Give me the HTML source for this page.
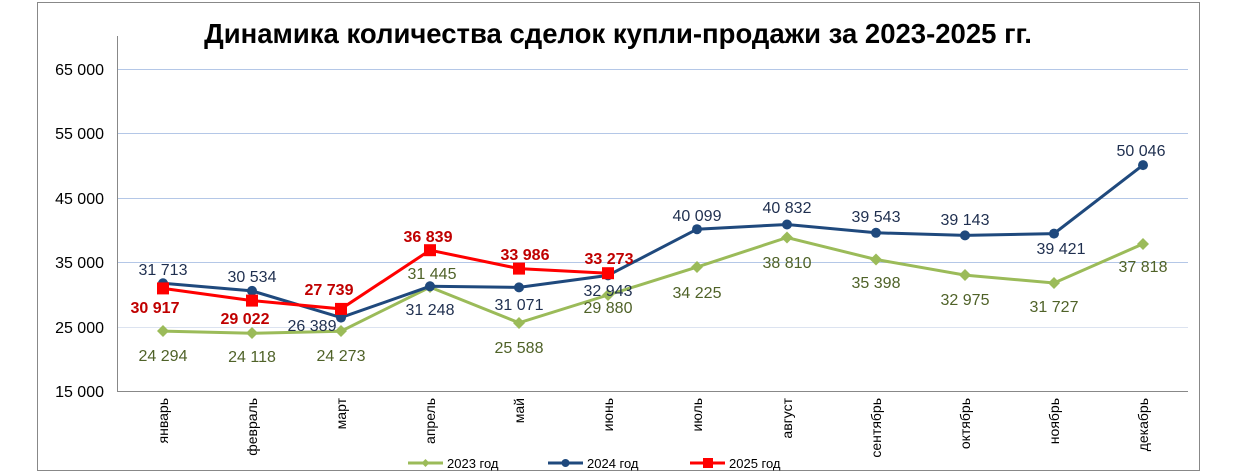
<!DOCTYPE html>
<html><head><meta charset="utf-8"><style>
body{margin:0;background:#fff;}
svg{display:block;font-family:"Liberation Sans",Arial,sans-serif;}
</style></head><body>
<svg width="1258" height="474" viewBox="0 0 1258 474">
<rect x="37.5" y="2.5" width="1162" height="468" fill="#fff" stroke="#888" stroke-width="1"/>
<text x="618" y="43" text-anchor="middle" font-size="27.5" font-weight="bold">Динамика количества сделок купли-продажи за 2023-2025 гг.</text>
<g stroke="#B4C7E7" stroke-width="1">
<line x1="117" y1="69.5" x2="1188" y2="69.5"/>
<line x1="117" y1="133.5" x2="1188" y2="133.5"/>
<line x1="117" y1="198.5" x2="1188" y2="198.5"/>
<line x1="117" y1="262.5" x2="1188" y2="262.5"/>
<line x1="117" y1="327.5" x2="1188" y2="327.5" stroke="#DCE3F0"/>
</g>
<line x1="117.5" y1="36" x2="117.5" y2="391" stroke="#888"/>
<line x1="117" y1="391.5" x2="1188" y2="391.5" stroke="#888"/>
<g font-size="16" text-anchor="end" fill="#000">
<text x="104" y="75">65 000</text><text x="104" y="139">55 000</text><text x="104" y="204">45 000</text>
<text x="104" y="268">35 000</text><text x="104" y="333">25 000</text><text x="104" y="397">15 000</text>
</g>
<g font-size="14" text-anchor="end" fill="#000">
<text transform="translate(168,398) rotate(-90)">январь</text>
<text transform="translate(257,398) rotate(-90)">февраль</text>
<text transform="translate(346,398) rotate(-90)">март</text>
<text transform="translate(435,398) rotate(-90)">апрель</text>
<text transform="translate(524,398) rotate(-90)">май</text>
<text transform="translate(613,398) rotate(-90)">июнь</text>
<text transform="translate(702,398) rotate(-90)">июль</text>
<text transform="translate(792,398) rotate(-90)">август</text>
<text transform="translate(881,398) rotate(-90)">сентябрь</text>
<text transform="translate(970,398) rotate(-90)">октябрь</text>
<text transform="translate(1059,398) rotate(-90)">ноябрь</text>
<text transform="translate(1148,398) rotate(-90)">декабрь</text>
</g>
<!-- 2023 -->
<polyline fill="none" stroke="#9BBB59" stroke-width="3" points="163,331.1 252,333.3 341,331.2 430,287.1 519,322.8 608,295 697,267.1 787,237.5 876,259.5 965,275.1 1054,283 1143,243.9"/>
<g fill="#9BBB59">
<path d="M163,325 l6,6 l-6,6 l-6,-6z"/><path d="M252,327 l6,6 l-6,6 l-6,-6z"/><path d="M341,325 l6,6 l-6,6 l-6,-6z"/>
<path d="M430,281 l6,6 l-6,6 l-6,-6z"/><path d="M519,317 l6,6 l-6,6 l-6,-6z"/><path d="M608,289 l6,6 l-6,6 l-6,-6z"/>
<path d="M697,261 l6,6 l-6,6 l-6,-6z"/><path d="M787,231.5 l6,6 l-6,6 l-6,-6z"/><path d="M876,253.5 l6,6 l-6,6 l-6,-6z"/>
<path d="M965,269 l6,6 l-6,6 l-6,-6z"/><path d="M1054,277 l6,6 l-6,6 l-6,-6z"/><path d="M1143,238 l6,6 l-6,6 l-6,-6z"/>
</g>
<!-- 2024 -->
<polyline fill="none" stroke="#1F497D" stroke-width="3" points="163,283.3 252,290.9 341,317.6 430,286.3 519,287.4 608,275.4 697,229.2 787,224.5 876,232.8 965,235.4 1054,233.6 1143,165.1"/>
<g fill="#1F497D">
<circle cx="163" cy="283.3" r="5"/><circle cx="252" cy="290.9" r="5"/><circle cx="341" cy="317.6" r="5"/><circle cx="430" cy="286.3" r="5"/>
<circle cx="519" cy="287.4" r="5"/><circle cx="608" cy="275.4" r="5"/><circle cx="697" cy="229.2" r="5"/><circle cx="787" cy="224.5" r="5"/>
<circle cx="876" cy="232.8" r="5"/><circle cx="965" cy="235.4" r="5"/><circle cx="1054" cy="233.6" r="5"/><circle cx="1143" cy="165.1" r="5"/>
</g>
<!-- 2025 -->
<polyline fill="none" stroke="#FF0000" stroke-width="3" points="163,288.4 252,300.6 341,308.9 430,250.2 519,268.6 608,273.2"/>
<g fill="#FF0000">
<rect x="157" y="282.4" width="12" height="12"/><rect x="246" y="294.6" width="12" height="12"/><rect x="335" y="302.9" width="12" height="12"/>
<rect x="424" y="244.2" width="12" height="12"/><rect x="513" y="262.6" width="12" height="12"/><rect x="602" y="267.2" width="12" height="12"/>
</g>
<g font-size="16" text-anchor="middle" fill="#1F2F4F">
<text x="163" y="275">31 713</text><text x="252" y="282">30 534</text><text x="312" y="331">26 389</text>
<text x="430" y="315">31 248</text><text x="519" y="310">31 071</text><text x="608" y="296">32 943</text>
<text x="697" y="221">40 099</text><text x="787" y="213">40 832</text><text x="876" y="222">39 543</text>
<text x="965" y="225">39 143</text><text x="1061" y="254">39 421</text><text x="1141" y="156">50 046</text>
</g>
<g font-size="16" text-anchor="middle" fill="#4F6228">
<text x="163" y="361">24 294</text><text x="252" y="362">24 118</text><text x="341" y="361">24 273</text>
<text x="432" y="279">31 445</text><text x="519" y="353">25 588</text><text x="608" y="313">29 880</text>
<text x="697" y="298">34 225</text><text x="787" y="268">38 810</text><text x="876" y="288">35 398</text>
<text x="965" y="305">32 975</text><text x="1054" y="312">31 727</text><text x="1143" y="272">37 818</text>
</g>
<g font-size="16" font-weight="bold" text-anchor="middle" fill="#C00000">
<text x="155" y="313">30 917</text><text x="245" y="324">29 022</text><text x="329" y="295">27 739</text>
<text x="428" y="242">36 839</text><text x="525" y="260">33 986</text><text x="609" y="264">33 273</text>
</g>
<g font-size="13" fill="#000">
<line x1="408" y1="463" x2="443" y2="463" stroke="#9BBB59" stroke-width="3"/><path d="M425.5,459 l4,4 l-4,4 l-4,-4z" fill="#9BBB59"/>
<text x="447" y="468">2023 год</text>
<line x1="548" y1="463" x2="583" y2="463" stroke="#1F497D" stroke-width="3"/><circle cx="565.5" cy="463" r="4" fill="#1F497D"/>
<text x="587" y="468">2024 год</text>
<line x1="690" y1="463" x2="725" y2="463" stroke="#FF0000" stroke-width="3"/><rect x="703" y="458" width="10" height="10" fill="#FF0000"/>
<text x="729" y="468">2025 год</text>
</g>
</svg>
</body></html>
